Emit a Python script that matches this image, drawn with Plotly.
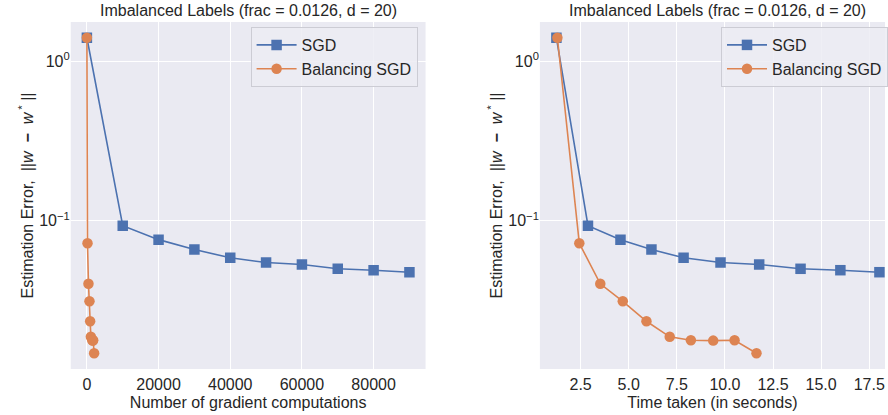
import plotly.graph_objects as go

# ---- data ----
sgd_grad = [0, 10000, 20000, 30000, 40000, 50000, 60000, 70000, 80000, 90000]
sgd_time = [1.24, 2.88, 4.57, 6.18, 7.85, 9.77, 11.78, 13.93, 16.0, 18.03]
sgd_err = [1.40, 0.093, 0.076, 0.0659, 0.0585, 0.0546, 0.0531, 0.0499, 0.0489, 0.0475]

bal_grad = [0, 170, 440, 720, 910, 1110, 1500, 1650, 1750, 2020]
bal_time = [1.29, 2.43, 3.52, 4.69, 5.92, 7.13, 8.23, 9.39, 10.5, 11.64]
bal_err = [1.40, 0.0721, 0.0402, 0.0312, 0.0234, 0.0187, 0.0178, 0.0177, 0.0178, 0.01475]

title_text = "Imbalanced Labels (frac = 0.0126, d = 20)"
ylabel = "Estimation Error,  ||<i>w</i>  <b>−</b>  <i>w</i><sup> *</sup> ||"
ytick_vals = [1, 0.1]
ytick_text = ["10<sup>0</sup>", "10<sup>−1</sup>"]
left_xticks = [0, 20000, 40000, 60000, 80000]
right_xticks = [2.5, 5.0, 7.5, 10.0, 12.5, 15.0, 17.5]

BLUE = "#4C72B0"
ORANGE = "#DD8452"
TXT = "#262626"
FONT = "Liberation Sans, Arial, sans-serif"

W, H = 888, 415
mt, mb = 22, 46
ph = H - mt - mb

fig = go.Figure()

def add(x, y, name, color, sym, xa, ya, legend):
    fig.add_trace(go.Scatter(
        x=x, y=y, name=name, mode="lines+markers",
        line=dict(color=color, width=1.6),
        marker=dict(symbol=sym, size=10.5, color=color, line=dict(width=0)),
        xaxis=xa, yaxis=ya, legend=legend,
    ))

add(sgd_grad, sgd_err, "SGD", BLUE, "square", "x", "y", "legend")
add(bal_grad, bal_err, "Balancing SGD", ORANGE, "circle", "x", "y", "legend")
add(sgd_time, sgd_err, "SGD", BLUE, "square", "x2", "y2", "legend2")
add(bal_time, bal_err, "Balancing SGD", ORANGE, "circle", "x2", "y2", "legend2")

axis_common = dict(
    showgrid=True, gridcolor="white", gridwidth=1, zeroline=False,
    showline=False, ticks="", tickfont=dict(size=16, color=TXT, family=FONT),
    title_font=dict(size=16, color=TXT, family=FONT),
)

l0, l1 = 71 / W, 427 / W
r0 = 541.7 / W

legend_common = dict(
    y=(H - mb - 27) / ph, yanchor="top", itemwidth=40,
    bgcolor="rgba(236,236,243,0.85)", bordercolor="#CCCCD4", borderwidth=1,
    font=dict(size=16, color=TXT, family=FONT), tracegroupgap=0,
)

fig.update_layout(
    width=W, height=H,
    margin=dict(l=0, r=0, t=mt, b=mb),
    paper_bgcolor="white", plot_bgcolor="#EAEAF2",
    font=dict(family=FONT, size=16, color=TXT),
    xaxis=dict(domain=[l0, l1], range=[-4500, 94500], tickvals=left_xticks,
               tickformat="d", ticklabelstandoff=4,
               title=dict(text="Number of gradient computations", standoff=4),
               anchor="y", **axis_common),
    yaxis=dict(domain=[0, 1], type="log", range=[-1.930, 0.245], tickvals=ytick_vals,
               ticktext=ytick_text, title=dict(text=ylabel, standoff=1), anchor="x",
               **axis_common),
    xaxis2=dict(domain=[r0, 1], range=[0.38, 18.32], tickvals=right_xticks,
                tickformat=".1f", ticklabelstandoff=4,
                title=dict(text="Time taken (in seconds)", standoff=4),
                anchor="y2", **axis_common),
    yaxis2=dict(domain=[0, 1], type="log", range=[-1.930, 0.245], tickvals=ytick_vals,
                ticktext=ytick_text, title=dict(text=ylabel, standoff=1), anchor="x2",
                **axis_common),
    legend=dict(x=419 / W, xanchor="right", **legend_common),
    legend2=dict(x=723.7 / W, xanchor="left", **legend_common),
    showlegend=True,
)

for xc in [(71 + 427) / 2 / W, (541.7 + 898.6) / 2 / W]:
    fig.add_annotation(text=title_text, x=xc, y=1, xref="paper", yref="paper",
                       xanchor="center", yanchor="bottom", yshift=1, showarrow=False,
                       font=dict(size=16, color=TXT, family=FONT))

fig.write_html("out.html")
